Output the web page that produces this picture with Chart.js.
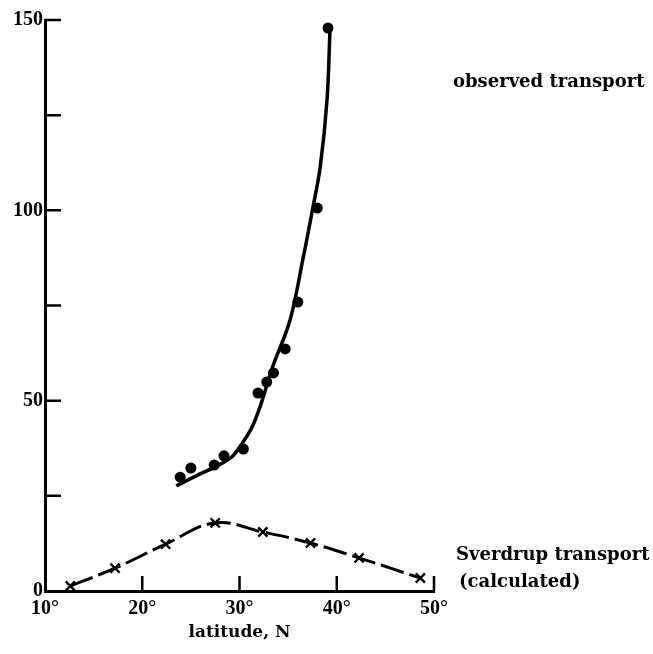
<!DOCTYPE html>
<html>
<head>
<meta charset="utf-8">
<script src="https://cdn.jsdelivr.net/npm/chart.js@4.4.0/dist/chart.umd.min.js"></script>
<style>
  html, body { margin: 0; padding: 0; background: #fff; }
  #wrap { width: 653px; height: 654px; }
</style>
</head>
<body>
<div id="wrap"><canvas id="transportChart" width="653" height="654"></canvas></div>
<script>
// observed transport (dots), Sv vs latitude N
const obsLat = [23.9, 25.0, 27.4, 28.4, 30.4, 31.9, 32.8, 33.5, 34.7, 36.0, 38.0, 39.1];
const obsTransport = [29.9, 32.3, 33.1, 35.5, 37.3, 52.0, 54.9, 57.3, 63.6, 75.9, 100.6, 147.9];

const fitLat = [23.5, 25.9, 27.5, 29.2, 30.3, 31.3, 32.1, 32.6, 33.4, 35.2, 36.5, 37.5, 38.3, 39.0, 39.3];
const fitTransport = [27.6, 30.7, 32.6, 35.2, 38.9, 43.1, 48.3, 52.3, 58.8, 71.2, 86.9, 100.1, 111.4, 129.0, 147.0];

// Sverdrup transport (calculated), crosses
const sverLat = [12.6, 17.2, 22.4, 27.5, 32.4, 37.3, 42.3, 48.6];
const sverTransport = [1.3, 6.0, 12.3, 17.9, 15.5, 12.6, 8.7, 3.4];

const xTicks = [10, 20, 30, 40, 50];
const yLabelled = [0, 50, 100, 150];

const serif = "'Liberation Serif', 'DejaVu Serif', serif";
const wideSerif = "'DejaVu Serif', serif";

function pts(xs, ys) {
  return xs.map((x, i) => ({ x: x, y: ys[i] }));
}

// short tick marks pointing into the plot, like the printed figure
const innerTicks = {
  id: 'innerTicks',
  afterDatasetsDraw(chart) {
    const ctx = chart.ctx;
    const xs = chart.scales.x, ys = chart.scales.y;
    ctx.save();
    ctx.strokeStyle = '#000';
    ctx.lineWidth = 2.5;
    ctx.beginPath();
    for (let v = 25; v <= 150; v += 25) {
      const py = ys.getPixelForValue(v);
      ctx.moveTo(xs.left, py);
      ctx.lineTo(xs.left + 16, py);
    }
    xTicks.slice(1).forEach(v => {
      const px = xs.getPixelForValue(v);
      ctx.moveTo(px, ys.bottom);
      ctx.lineTo(px, ys.bottom - 15);
    });
    ctx.stroke();
    ctx.restore();
  }
};

const labels = {
  id: 'labels',
  afterDraw(chart) {
    const ctx = chart.ctx;
    ctx.save();
    ctx.fillStyle = '#000';
    ctx.font = 'bold 18px ' + wideSerif;
    ctx.textBaseline = 'middle';
    ctx.textAlign = 'left';
    ctx.fillText('observed transport', 453, 82);
    ctx.fillText('Sverdrup transport', 456, 555);
    ctx.fillText('(calculated)', 459, 582);
    ctx.restore();
  }
};

const ctx = document.getElementById('transportChart').getContext('2d');
new Chart(ctx, {
  type: 'scatter',
  data: {
    datasets: [
      {
        label: 'observed fit',
        data: pts(fitLat, fitTransport),
        showLine: true,
        borderColor: '#000',
        borderWidth: 3.5,
        pointRadius: 0,
        tension: 0.35
      },
      {
        label: 'observed transport',
        data: pts(obsLat, obsTransport),
        pointRadius: 5.5,
        pointBackgroundColor: '#000',
        pointBorderColor: '#000',
        pointBorderWidth: 0
      },
      {
        label: 'Sverdrup transport',
        data: pts(sverLat, sverTransport),
        showLine: true,
        borderColor: '#000',
        borderWidth: 3,
        borderDash: [24, 6],
        tension: 0.4,
        pointStyle: 'crossRot',
        pointRadius: 6.5,
        pointBorderWidth: 2.4,
        pointBorderColor: '#000'
      }
    ]
  },
  options: {
    responsive: false,
    animation: false,
    layout: { padding: { top: 20, right: 219, left: 0, bottom: 0 } },
    plugins: {
      legend: { display: false },
      tooltip: { enabled: false }
    },
    scales: {
      x: {
        type: 'linear',
        min: 10,
        max: 50,
        afterFit: s => { s.height = 63; },
        grid: { display: false, drawTicks: false },
        border: { display: true, color: '#000', width: 3 },
        ticks: {
          stepSize: 10,
          padding: 6,
          color: '#000',
          font: { family: serif, size: 20, weight: 'bold' },
          callback: v => xTicks.includes(v) ? v + '°' : ''
        },
        title: {
          display: true,
          text: 'latitude, N',
          color: '#000',
          padding: { top: 0, bottom: 11 },
          font: { family: wideSerif, size: 17, weight: 'bold' }
        }
      },
      y: {
        min: 0,
        max: 150,
        afterFit: s => { s.width = 45; },
        grid: { display: false, drawTicks: false },
        border: { display: true, color: '#000', width: 3 },
        ticks: {
          stepSize: 25,
          padding: 2,
          color: '#000',
          font: { family: serif, size: 20, weight: 'bold' },
          callback: v => yLabelled.includes(v) ? String(v) : ''
        }
      }
    }
  },
  plugins: [innerTicks, labels]
});
</script>
</body>
</html>
